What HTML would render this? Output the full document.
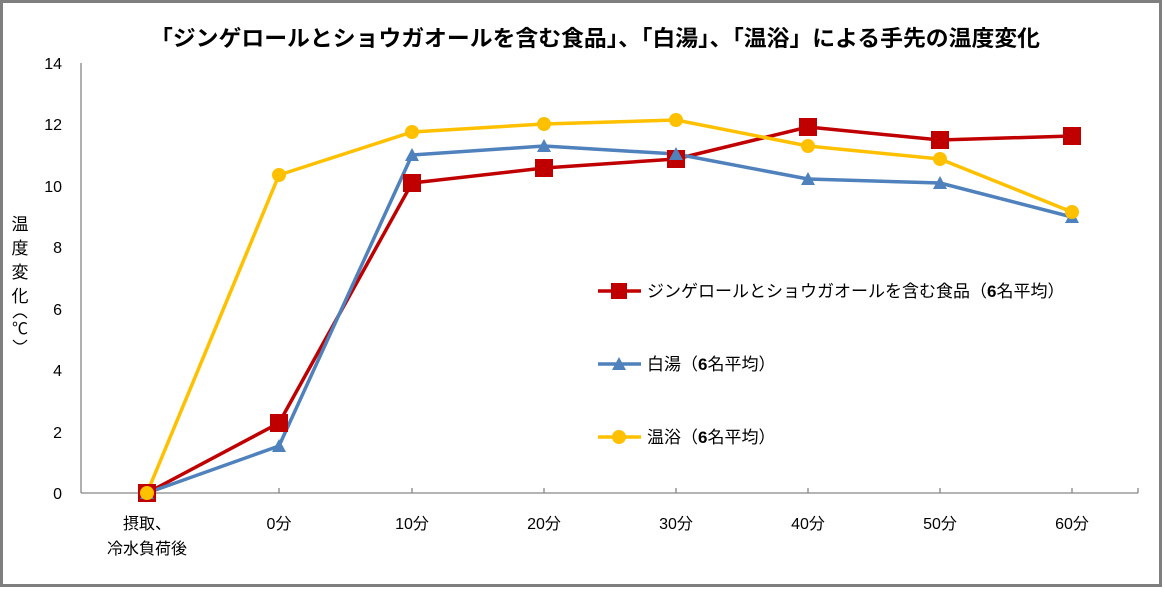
<!DOCTYPE html>
<html><head><meta charset="utf-8"><style>
body{margin:0;background:#fff}
svg text{font-family:"Liberation Sans","Noto Sans CJK JP",sans-serif;fill:#000}
</style></head><body>
<svg width="1165" height="588" xmlns="http://www.w3.org/2000/svg">
<rect x="1.5" y="1.5" width="1159" height="584" fill="#fff" stroke="#7f7f7f" stroke-width="3"/>
<text x="150" y="46" font-size="22" font-weight="bold" textLength="890" lengthAdjust="spacingAndGlyphs">「ジンゲロールとショウガオールを含む食品」、「白湯」、「温浴」による手先の温度変化</text>
<g stroke="#868686" stroke-width="1.3">
<line x1="81" y1="63" x2="81" y2="493"/>
<line x1="81" y1="493" x2="1138" y2="493"/>
<line x1="147" y1="493" x2="147" y2="488"/><line x1="279" y1="493" x2="279" y2="488"/><line x1="412" y1="493" x2="412" y2="488"/><line x1="544" y1="493" x2="544" y2="488"/><line x1="676" y1="493" x2="676" y2="488"/><line x1="808" y1="493" x2="808" y2="488"/><line x1="940" y1="493" x2="940" y2="488"/><line x1="1072" y1="493" x2="1072" y2="488"/><line x1="1138" y1="493" x2="1138" y2="488"/>
</g>
<g font-size="16" text-anchor="end">
<text x="62" y="499">0</text><text x="62" y="438">2</text><text x="62" y="376">4</text><text x="62" y="315">6</text><text x="62" y="253">8</text><text x="62" y="192">10</text><text x="62" y="130">12</text><text x="62" y="69">14</text>
</g>
<g font-size="17" text-anchor="middle">
<text x="20" y="230">温</text><text x="20" y="254">度</text><text x="20" y="278">変</text><text x="20" y="302">化</text>
<text x="20" y="334" font-size="16">℃</text>
</g>
<path d="M13,318 Q20,310 27,318" fill="none" stroke="#000" stroke-width="1.2"/>
<path d="M13,340 Q20,348 27,340" fill="none" stroke="#000" stroke-width="1.2"/>
<g font-size="16" text-anchor="middle">
<text x="147" y="529">摂取、</text><text x="147" y="554">冷水負荷後</text>
<text x="279" y="529">0分</text><text x="412" y="529">10分</text><text x="544" y="529">20分</text><text x="676" y="529">30分</text><text x="808" y="529">40分</text><text x="940" y="529">50分</text><text x="1072" y="529">60分</text>
</g>
<g fill="none" stroke-width="3.5" stroke-linejoin="round">
<polyline stroke="#c00000" points="147,493 279,423 412,183 544,168 676,159 808,127 940,140 1072,136"/>
<polyline stroke="#4f81bd" points="147,493 279,446 412,155 544,146 676,154 808,179 940,183 1072,217"/>
<polyline stroke="#ffc000" points="147,493 279,175 412,132 544,124 676,120 808,146 940,159 1072,212"/>
</g>
<g fill="#c00000">
<rect x="138" y="484" width="18" height="18"/><rect x="270" y="414" width="18" height="18"/><rect x="403" y="174" width="18" height="18"/><rect x="535" y="159" width="18" height="18"/><rect x="667" y="150" width="18" height="18"/><rect x="799" y="118" width="18" height="18"/><rect x="931" y="131" width="18" height="18"/><rect x="1063" y="127" width="18" height="18"/>
</g>
<g fill="#4f81bd">
<polygon points="147,486 154,499 140,499"/><polygon points="279,439 286,452 272,452"/><polygon points="412,148 419,161 405,161"/><polygon points="544,139 551,152 537,152"/><polygon points="676,147 683,160 669,160"/><polygon points="808,172 815,185 801,185"/><polygon points="940,176 947,189 933,189"/><polygon points="1072,210 1079,223 1065,223"/>
</g>
<g fill="#ffc000">
<circle cx="147" cy="493" r="7"/><circle cx="279" cy="175" r="7"/><circle cx="412" cy="132" r="7"/><circle cx="544" cy="124" r="7"/><circle cx="676" cy="120" r="7"/><circle cx="808" cy="146" r="7"/><circle cx="940" cy="159" r="7"/><circle cx="1072" cy="212" r="7"/>
</g>
<line x1="598" y1="291" x2="641" y2="291" stroke="#c00000" stroke-width="3.5"/><rect x="611" y="283" width="16" height="16" fill="#c00000"/>
<line x1="598" y1="364" x2="641" y2="364" stroke="#4f81bd" stroke-width="3.5"/><polygon points="619,357 626,370 612,370" fill="#4f81bd"/>
<line x1="598" y1="437" x2="641" y2="437" stroke="#ffc000" stroke-width="3.5"/><circle cx="619" cy="437" r="7" fill="#ffc000"/>
<g font-size="17">
<text x="647" y="297">ジンゲロールとショウガオールを含む食品（<tspan font-weight="bold">6</tspan>名平均）</text>
<text x="647" y="370">白湯（<tspan font-weight="bold">6</tspan>名平均）</text>
<text x="647" y="443">温浴（<tspan font-weight="bold">6</tspan>名平均）</text>
</g>
</svg>
</body></html>
